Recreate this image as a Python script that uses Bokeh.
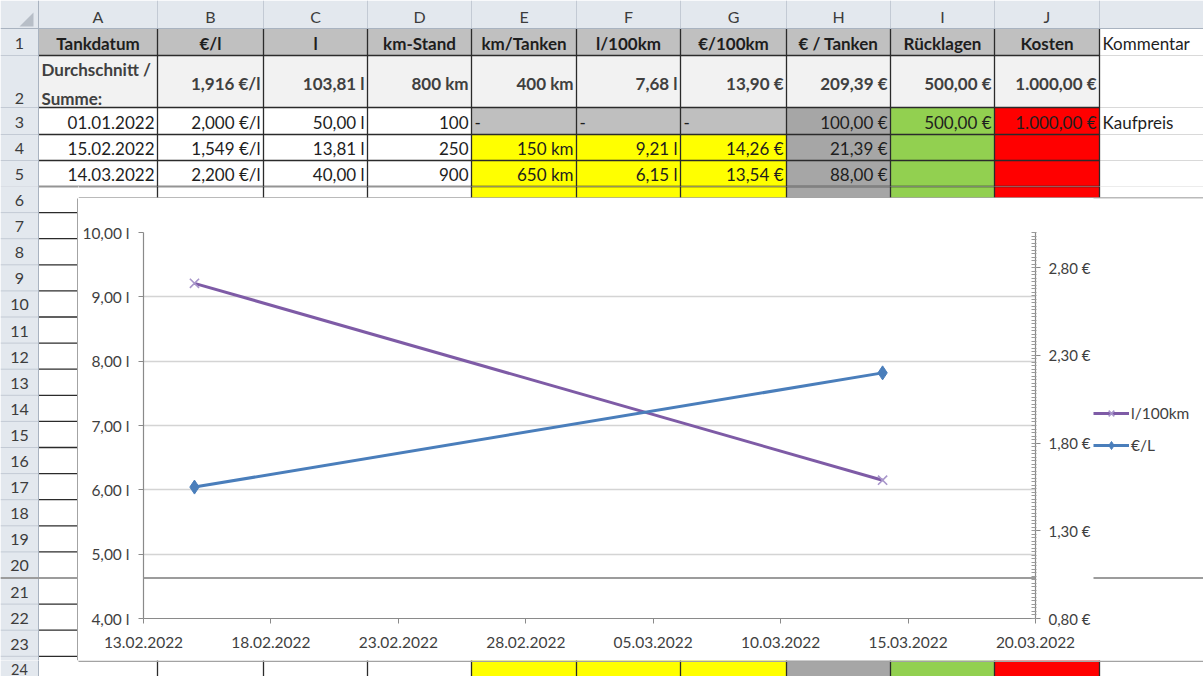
from datetime import datetime
from bokeh.plotting import figure
from bokeh.layouts import column, row
from bokeh.models import (Range1d, LinearAxis, FixedTicker, Legend, LegendItem,
                          BoxAnnotation, DatetimeTickFormatter)
from bokeh.core.properties import value
from bokeh.embed import file_html
from bokeh.resources import INLINE

# ---------------- chart data ----------------
fuel_dates = [datetime(2022, 2, 15), datetime(2022, 3, 14)]
l_per_100km = [9.21, 6.15]
eur_per_l = [1.549, 2.200]

date_ticks = [datetime(2022, 2, 13), datetime(2022, 2, 18), datetime(2022, 2, 23),
              datetime(2022, 2, 28), datetime(2022, 3, 5), datetime(2022, 3, 10),
              datetime(2022, 3, 15), datetime(2022, 3, 20)]
litre_ticks = [4, 5, 6, 7, 8, 9, 10]
litre_labels = ["4,00 l", "5,00 l", "6,00 l", "7,00 l", "8,00 l", "9,00 l", "10,00 l"]
euro_ticks = [0.8, 1.3, 1.8, 2.3, 2.8]
euro_labels = ["0,80 €", "1,30 €", "1,80 €", "2,30 €", "2,80 €"]
euro_min, euro_max = 0.8, 3.0
euro_minor_step = 0.02
series_names = ["l/100km", "€/L"]

# ---------------- sheet data ----------------
col_letters = ["A", "B", "C", "D", "E", "F", "G", "H", "I", "J"]
header_row = ["Tankdatum", "€/l", "l", "km-Stand", "km/Tanken", "l/100km",
              "€/100km", "€ / Tanken", "Rücklagen", "Kosten"]
summary_label = ["Durchschnitt /", "Summe:"]
summary_row = ["1,916 €/l", "103,81 l", "800 km", "400 km", "7,68 l", "13,90 €",
               "209,39 €", "500,00 €", "1.000,00 €"]
row3 = ["01.01.2022", "2,000 €/l", "50,00 l", "100", "-", "-", "-", "100,00 €",
        "500,00 €", "1.000,00 €"]
row4 = ["15.02.2022", "1,549 €/l", "13,81 l", "250", "150 km", "9,21 l", "14,26 €",
        "21,39 €", "", ""]
row5 = ["14.03.2022", "2,200 €/l", "40,00 l", "900", "650 km", "6,15 l", "13,54 €",
        "88,00 €", "", ""]
comment_header = "Kommentar"
comment_row3 = "Kaufpreis"

# sheet geometry (pixel grid of the worksheet window)
COL_EDGES = [0, 38, 157, 263, 367, 471, 576, 680, 786, 890, 994, 1099, 1215]
ROW_EDGES = [0, 28, 55, 107, 134, 160, 186] + [186 + 26.1 * k for k in range(1, 20)]
CHART_BOX = (78, 198, 660)   # left, top, bottom of the embedded chart object
LEGEND_X = 1093
W, H = 1203, 676

FONT = value("Lato")
FS = "17px"
TXT = "#1e1e1e"
HDR_BG = "#E3E8EE"
HDR_LINE = "#C3CAD4"
BOX_LINE = "#A3A3A3"
SPLIT = "#9C9C9C"


def cell_fill(r, c):
    if c == 10:
        return "white"
    if r == 1:
        return "#C0C0C0"
    if r == 2:
        return "#F2F2F2"
    if c <= 3:
        return "white"
    if c <= 6:
        return "#BFBFBF" if r == 3 else "#FFFF00"
    return ["#A6A6A6", "#92D050", "#FF0000"][c - 7]


def put_text(f, xs, ys, texts, **kw):
    """write only the texts whose anchor lies inside this window"""
    x0, x1 = f.x_range.start, f.x_range.end
    y1, y0 = f.y_range.start, f.y_range.end
    keep = [(x, y, t) for x, y, t in zip(xs, ys, texts) if x0 <= x <= x1 and y0 <= y <= y1]
    if keep:
        f.text(x=[k[0] for k in keep], y=[k[1] for k in keep], text=[k[2] for k in keep],
               text_font=FONT, text_baseline="middle", **kw)


def draw_sheet(f):
    L, R, T, B, C = [], [], [], [], []
    for r in range(1, 25):
        for c in range(11):
            L.append(COL_EDGES[c + 1]); R.append(COL_EDGES[c + 2])
            T.append(ROW_EDGES[r]); B.append(ROW_EDGES[r + 1]); C.append(cell_fill(r, c))
    f.quad(left=L, right=R, top=T, bottom=B, fill_color=C, line_color=None)
    # headers
    f.quad(left=[38], right=[1215], top=[0], bottom=[28], fill_color=HDR_BG, line_color=None)
    f.quad(left=[0], right=[38], top=[0], bottom=[700], fill_color=HDR_BG, line_color=None)
    f.segment(x0=COL_EDGES[2:], x1=COL_EDGES[2:], y0=[0] * 11, y1=[28] * 11,
              line_color=HDR_LINE, line_width=1)
    f.segment(x0=[0] * 24, x1=[38] * 24, y0=ROW_EDGES[2:], y1=ROW_EDGES[2:],
              line_color=HDR_LINE, line_width=1)
    f.patch(x=[33, 33, 19], y=[12, 26, 26], fill_color="#B7BEC7", line_color=None)
    # light grid in column K
    f.segment(x0=[1099] * 24, x1=[1215] * 24, y0=ROW_EDGES[2:], y1=ROW_EDGES[2:],
              line_color="#D9D9D9", line_width=1)
    # table borders
    f.segment(x0=[38] * 24, x1=[1099] * 24, y0=ROW_EDGES[2:], y1=ROW_EDGES[2:],
              line_color="#2b2b2b", line_width=1.3)
    f.segment(x0=COL_EDGES[2:12], x1=COL_EDGES[2:12], y0=[28] * 10, y1=[700] * 10,
              line_color="#2b2b2b", line_width=1.3)
    f.segment(x0=[0, 38], x1=[1215, 38], y0=[28, 0], y1=[28, 700],
              line_color="#A9B3C0", line_width=1)
    # column letters
    cx = [(COL_EDGES[i + 1] + COL_EDGES[i + 2]) / 2 for i in range(10)]
    put_text(f, cx, [16] * 10, col_letters, text_font_size="16px",
             text_color="#3c3c3c", text_align="center")
    # row numbers (the last one only shows its upper part, as in the window)
    rn = [str(i) for i in range(1, 25)]
    ry = [(ROW_EDGES[i] + ROW_EDGES[i + 1]) / 2 + 1 for i in range(1, 25)]
    ry[1] = 98
    put_text(f, [19] * 23, ry[:23], rn[:23], text_font_size="16px",
             text_color="#3c3c3c", text_align="center")
    put_text(f, [19], [668.5], rn[23:], text_font_size="14.5px",
             text_color="#3c3c3c", text_align="center")
    # row 1 headers
    put_text(f, cx, [43] * 10, header_row, text_font_size=FS,
             text_font_style="bold", text_color=TXT, text_align="center")
    put_text(f, [1102], [43], [comment_header], text_font_size=FS,
             text_color=TXT, text_align="left")
    # row 2 summary
    put_text(f, [41, 41], [69, 98], summary_label, text_font_size=FS,
             text_font_style="bold", text_color="#404040", text_align="left")
    rx = [COL_EDGES[i + 2] - 3 for i in range(1, 10)]
    put_text(f, rx, [83] * 9, summary_row, text_font_size=FS,
             text_font_style="bold", text_color="#404040", text_align="right")
    # rows 3-5
    for vals, yy in ((row3, 122), (row4, 148), (row5, 174)):
        xs, ts, xl, tl = [], [], [], []
        for i, v in enumerate(vals):
            if v == "-":
                xl.append(COL_EDGES[i + 1] + 3); tl.append(v)
            elif v:
                xs.append(COL_EDGES[i + 2] - 3); ts.append(v)
        put_text(f, xs, [yy] * len(xs), ts, text_font_size=FS,
                 text_color=TXT, text_align="right")
        put_text(f, xl, [yy] * len(xl), tl, text_font_size=FS,
                 text_color=TXT, text_align="left")
    put_text(f, [1102], [122], [comment_row3], text_font_size=FS,
             text_color=TXT, text_align="left")


def draw_chart_box(f, with_fill=True):
    bl, bt, bb = CHART_BOX
    if with_fill:
        f.quad(left=[bl], right=[1215], top=[bt], bottom=[bb], fill_color="white", line_color=None)
    # split line of the worksheet window (drawn over the chart)
    f.segment(x0=[0], x1=[1215], y0=[ROW_EDGES[21]], y1=[ROW_EDGES[21]],
              line_color=SPLIT, line_width=2)
    # grey frame of the chart object
    f.segment(x0=[bl, bl, bl - 0.75], x1=[1215, 1215, bl - 0.75],
              y0=[bt - 0.5, bb + 0.75, bt], y1=[bt - 0.5, bb + 0.75, bb],
              line_color=BOX_LINE, line_width=1.5)


def sheet_window(x0, x1, y0, y1, cells=True):
    f = figure(width=int(x1 - x0), height=int(y1 - y0), x_range=Range1d(x0, x1),
               y_range=Range1d(y1, y0), output_backend="svg", toolbar_location=None,
               min_border=0, x_axis_location=None, y_axis_location=None,
               outline_line_color=None, background_fill_color="white",
               border_fill_color="white", frame_align=False)
    f.xgrid.visible = False
    f.ygrid.visible = False
    if cells:
        draw_sheet(f)
    draw_chart_box(f, with_fill=cells)
    return f


bl, bt, bb = CHART_BOX
top = sheet_window(0, W, 0, ROW_EDGES[6])
left = sheet_window(0, bl, ROW_EDGES[6], bb)
strip = sheet_window(bl, W, ROW_EDGES[6], bt)
right = sheet_window(LEGEND_X, W, bt, bb, cells=False)
bottom = sheet_window(0, W, bb, H)

# ---------------- chart ----------------
p = figure(width=LEGEND_X - bl, height=bb - bt, x_axis_type="datetime",
           x_range=Range1d(date_ticks[0], date_ticks[-1]),
           y_range=Range1d(litre_ticks[0], litre_ticks[-1]),
           output_backend="svg", toolbar_location=None,
           min_border_left=65, min_border_right=55, min_border_top=34, min_border_bottom=42,
           background_fill_color="white", border_fill_color="white", outline_line_color=None,
           frame_align=False)
p.extra_y_ranges = {"eur": Range1d(euro_min, euro_max)}

AX = "#8A8A8A"
LBL = "#3f3f3f"

p.xgrid.visible = False
p.ygrid.ticker = FixedTicker(ticks=litre_ticks)
p.ygrid.grid_line_color = "#D4D4D4"
p.ygrid.grid_line_width = 1.6

yax = p.yaxis[0]
yax.ticker = FixedTicker(ticks=litre_ticks)
yax.major_label_overrides = dict(zip(litre_ticks, litre_labels))

xax = p.xaxis[0]
xax.ticker = FixedTicker(ticks=[(d - datetime(1970, 1, 1)).total_seconds() * 1000 for d in date_ticks])
fmt = "%d.%m.%Y"
xax.formatter = DatetimeTickFormatter(days=fmt, months=fmt, years=fmt, hours=fmt,
                                      hourmin=fmt, minutes=fmt, minsec=fmt, seconds=fmt,
                                      milliseconds=fmt, microseconds=fmt)

n_minor = int(round((euro_max - euro_min) / euro_minor_step)) + 1
euro_minor = [round(euro_min + euro_minor_step * k, 2) for k in range(n_minor)]
rax = LinearAxis(y_range_name="eur", ticker=FixedTicker(ticks=euro_ticks, minor_ticks=euro_minor))
rax.major_label_overrides = dict(zip(euro_ticks, euro_labels))
p.add_layout(rax, "right")

for ax in (xax, yax, rax):
    ax.axis_line_color = AX
    ax.axis_line_width = 1.2
    ax.major_tick_line_color = AX
    ax.major_tick_in = 0
    ax.major_tick_out = 5
    ax.minor_tick_line_color = None
    ax.major_label_text_font = "Lato"
    ax.major_label_text_font_size = "15.5px"
    ax.major_label_text_color = LBL
rax.major_label_text_font_size = "15px"
yax.major_label_standoff = 9
rax.major_label_standoff = 8
xax.major_label_standoff = 13
rax.minor_tick_line_color = "#9A9A9A"
rax.minor_tick_in = 4
rax.minor_tick_out = 1

purple = "#7E5BA6"
purple_marker = "#A896CB"
blue = "#4A7EBB"
p.line(fuel_dates, l_per_100km, line_color=purple, line_width=3)
p.scatter(fuel_dates, l_per_100km, marker="x", size=13, line_color=purple_marker, line_width=1.6)
p.line(fuel_dates, eur_per_l, line_color=blue, line_width=3, y_range_name="eur")
p.scatter(fuel_dates, eur_per_l, marker="diamond", size=14, fill_color=blue,
          line_color=blue, y_range_name="eur")

# the worksheet's window split line crossing the chart's plot area
split_y = ROW_EDGES[21] - bt
p.add_layout(BoxAnnotation(top=split_y - 1, bottom=split_y + 1,
                           top_units="canvas", bottom_units="canvas",
                           fill_color=SPLIT, fill_alpha=1, line_color=None, level="overlay"))

# legend (in the strip right of the value axis); its renderers carry the same series,
# which fall outside that strip's own ranges, so only the legend keys show there
k1l = right.line(fuel_dates, l_per_100km, line_color=purple, line_width=3)
k1m = right.scatter(fuel_dates, l_per_100km, marker="x", line_color=purple_marker, line_width=1.6)
k2l = right.line(fuel_dates, eur_per_l, line_color=blue, line_width=3)
k2m = right.scatter(fuel_dates, eur_per_l, marker="diamond", fill_color=blue, line_color=blue)
legend = Legend(items=[LegendItem(label=series_names[0], renderers=[k1l, k1m]),
                       LegendItem(label=series_names[1], renderers=[k2l, k2m])],
                location=(0, 205), glyph_width=36, glyph_height=20, label_height=20,
                spacing=12, padding=0, margin=0, label_standoff=2,
                border_line_color=None, background_fill_alpha=0,
                label_text_font="Lato", label_text_font_size="15.5px",
                label_text_color=LBL)
right.add_layout(legend)

layout = column(top, row(left, column(strip, row(p, right))), bottom)
open("out.html", "w").write(file_html(layout, INLINE))
